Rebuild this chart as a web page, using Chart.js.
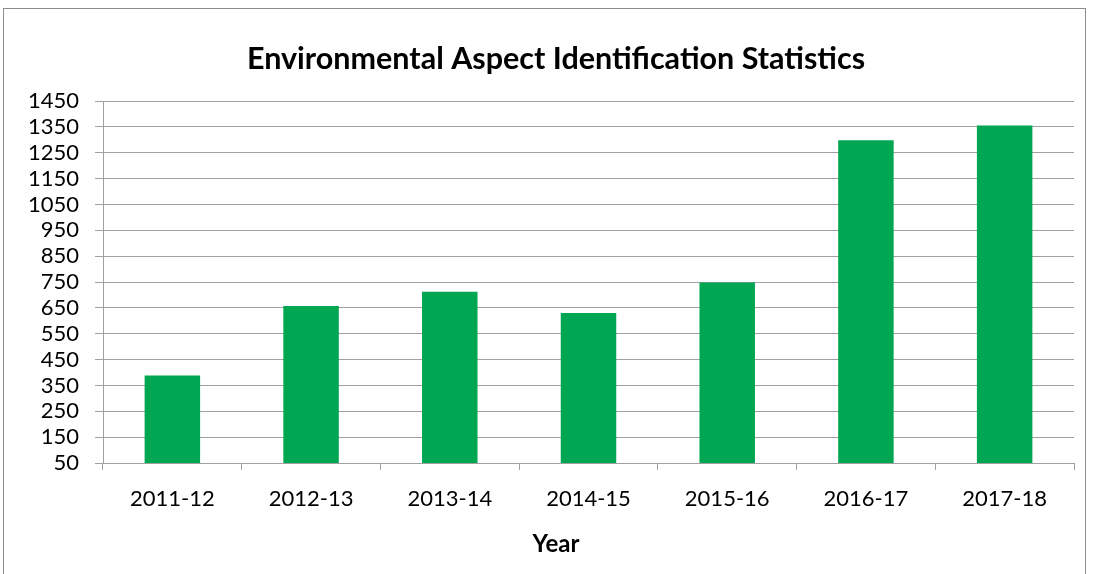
<!DOCTYPE html>
<html lang="en">
<head>
    <meta charset="UTF-8">
    <title>Environmental Aspect Identification Statistics</title>
    <script src="https://cdn.jsdelivr.net/npm/chart.js"></script>
    <style>
        html, body { margin: 0; padding: 0; background: #fff; }
        #wrap { position: relative; width: 1093px; height: 574px; }
    </style>
</head>
<body>
    <div id="wrap">
        <canvas id="aspectChart" width="1093" height="574"></canvas>
    </div>

    <script>
        // Data
        const years = ['2011-12', '2012-13', '2013-14', '2014-15', '2015-16', '2016-17', '2017-18'];
        const aspectCounts = [388, 657, 712, 630, 748, 1298, 1355];
        const yMin = 50;
        const yMax = 1450;
        const yStep = 100;

        const chartTitle = 'Environmental Aspect Identification Statistics';
        const xAxisTitle = 'Year';

        const gridGray = '#a0a0a0';

        // Outer frame plus titles; the spreadsheet centres them on the whole
        // chart box (axis labels included), not on the plot area
        const framePlugin = {
            id: 'frame',
            beforeDraw(chart) {
                const c = chart.ctx;
                c.save();
                c.fillStyle = '#fff';
                c.fillRect(0, 0, chart.width, chart.height);
                c.strokeStyle = '#8c8c8c';
                c.lineWidth = 1;
                c.strokeRect(3.5, 8.5, 1082, 600);
                c.restore();
            },
            afterDraw(chart) {
                const c = chart.ctx;
                const cx = 556;
                c.save();
                c.fillStyle = '#000';
                c.textAlign = 'center';
                c.textBaseline = 'alphabetic';
                c.font = 'bold 30.5px Lato';
                c.fillText(chartTitle, cx, 69);
                c.font = 'bold 24px Lato';
                c.fillText(xAxisTitle, cx, 552);
                c.restore();
            }
        };

        const ctx = document.getElementById('aspectChart').getContext('2d');
        new Chart(ctx, {
            type: 'bar',
            data: {
                labels: years,
                datasets: [{
                    label: 'Aspects',
                    data: aspectCounts,
                    backgroundColor: '#00a651',
                    borderWidth: 0,
                    categoryPercentage: 1.0,
                    barPercentage: 0.4
                }]
            },
            options: {
                responsive: false,
                animation: false,
                layout: { padding: { left: 3, right: 19, top: 101, bottom: 0 } },
                plugins: {
                    legend: { display: false },
                    tooltip: { enabled: false },
                    title: { display: false }
                },
                scales: {
                    x: {
                        grid: {
                            drawOnChartArea: false,
                            drawTicks: true,
                            tickLength: 7,
                            color: gridGray
                        },
                        border: { display: true, color: gridGray, width: 1 },
                        ticks: {
                            color: '#000',
                            padding: 16,
                            font: { family: 'Lato', size: 22 },
                            maxRotation: 0
                        },
                        afterFit(scale) { scale.height = 111; }
                    },
                    y: {
                        min: yMin,
                        max: yMax,
                        grid: {
                            color: gridGray,
                            tickLength: 8,
                            lineWidth: 1
                        },
                        border: { display: true, color: gridGray, width: 1 },
                        ticks: {
                            stepSize: yStep,
                            autoSkip: false,
                            color: '#000',
                            padding: 16,
                            font: { family: 'Lato', size: 22 },
                            callback: (v) => String(v)
                        },
                        afterFit(scale) { scale.width = 100; }
                    }
                }
            },
            plugins: [framePlugin]
        });
    </script>
</body>
</html>
